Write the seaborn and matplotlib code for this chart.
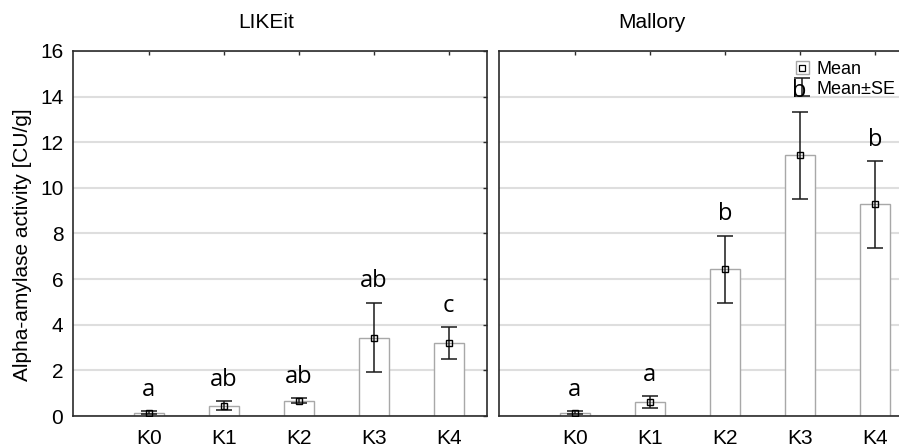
import matplotlib
matplotlib.use("Agg")
import matplotlib.pyplot as plt
from matplotlib.patches import Patch
from matplotlib.lines import Line2D
import numpy as np
import pandas as pd
import seaborn as sns

# Treatment groups and per-cultivar results (mean ± SE, CU/g)
groups = ["K0", "K1", "K2", "K3", "K4"]
cultivars = ["LIKEit", "Mallory"]

likeit_mean = [0.15, 0.46, 0.67, 3.44, 3.20]
likeit_se = [0.08, 0.21, 0.10, 1.53, 0.69]
likeit_letters = ["a", "ab", "ab", "ab", "c"]

mallory_mean = [0.14, 0.61, 6.43, 11.42, 9.28]
mallory_se = [0.07, 0.28, 1.48, 1.92, 1.90]
mallory_letters = ["a", "a", "b", "b", "b"]

y_ticks = [0, 2, 4, 6, 8, 10, 12, 14, 16]

frames = []
for name, m, s, l in [("LIKEit", likeit_mean, likeit_se, likeit_letters),
                      ("Mallory", mallory_mean, mallory_se, mallory_letters)]:
    frames.append(pd.DataFrame({"cultivar": name, "group": groups,
                                "mean": m, "se": s, "letter": l}))
df = pd.concat(frames, ignore_index=True)

sns.set_theme(style="white")
plt.rcParams["font.family"] = ["Liberation Sans", "DejaVu Sans"]
plt.rcParams["text.color"] = "black"

W, H = 899, 448
fig = plt.figure(figsize=(W / 100, H / 100), dpi=100)

def px_axes(x0, y0, x1, y1):
    return fig.add_axes([x0 / W, 1 - y1 / H, (x1 - x0) / W, (y1 - y0) / H])

ax_left = px_axes(73, 51, 487, 416)
ax_right = px_axes(499, 51, 913, 416)

spine_col = "#2b2b2b"
bar_edge = "#a8a8a8"
err_col = "#1a1a1a"
label_size = 15

err_handle = None
for ax, name in [(ax_left, "LIKEit"), (ax_right, "Mallory")]:
    sub = df[df["cultivar"] == name].reset_index(drop=True)
    sns.barplot(data=sub, x="group", y="mean", order=groups, ax=ax,
                color="white", edgecolor=bar_edge, linewidth=1.0,
                width=0.4, errorbar=None, saturation=1)
    pos = np.arange(len(groups))
    eb = ax.errorbar(pos, sub["mean"], yerr=sub["se"], fmt="none",
                     ecolor=err_col, elinewidth=1.1, capsize=5.5,
                     capthick=1.1, zorder=4)
    ax.plot(pos, sub["mean"], ls="none", marker="s", ms=5,
            mfc="none", mec="black", mew=1.0, zorder=5)
    for i, row in sub.iterrows():
        ax.text(i, row["mean"] + row["se"] + 0.4, row["letter"],
                ha="center", va="bottom", fontsize=17,
                family=["Open Sans", "DejaVu Sans"], color="black", zorder=6)
    if name == "Mallory":
        err_handle = eb

    ax.set_xlim(-1.01, 4.51)
    ax.set_ylim(0, 16)
    ax.set_yticks(y_ticks)
    ax.set_xlabel("")
    ax.set_ylabel("")
    ax.yaxis.grid(True, color="#dedede", lw=1.5)
    ax.xaxis.grid(False)
    ax.set_axisbelow(True)
    for sp in ax.spines.values():
        sp.set_visible(True)
        sp.set_color(spine_col)
        sp.set_linewidth(1.2)
    ax.tick_params(axis="both", direction="in", length=3, width=1,
                   color=spine_col, top=True, right=True,
                   labelsize=label_size, labelcolor="black")
    ax.tick_params(axis="x", pad=9.5)
    ax.tick_params(axis="y", pad=7)

ax_right.tick_params(axis="y", labelleft=False)

fig.text(266 / W, 1 - 22 / H, "LIKEit", ha="center", va="center", fontsize=label_size)
fig.text(652 / W, 1 - 22 / H, "Mallory", ha="center", va="center", fontsize=label_size)
fig.text(23 / W, 1 - 245 / H, "Alpha-amylase activity [CU/g]", rotation=90,
         ha="center", va="center", fontsize=label_size)

mean_handle = (Patch(fc="white", ec=bar_edge, lw=1.0),
               Line2D([], [], ls="none", marker="s", ms=4.5, mfc="none",
                      mec="black", mew=0.9))
ax_right.legend([mean_handle, err_handle], ["Mean", "Mean±SE"],
                loc="upper left", bbox_to_anchor=(796 / W, 1 - 61 / H),
                bbox_transform=fig.transFigure, frameon=False, fontsize=13,
                handlelength=0.7, handletextpad=0.45, labelspacing=0.15,
                borderpad=0, borderaxespad=0)

fig.savefig("out.png", dpi=100)
